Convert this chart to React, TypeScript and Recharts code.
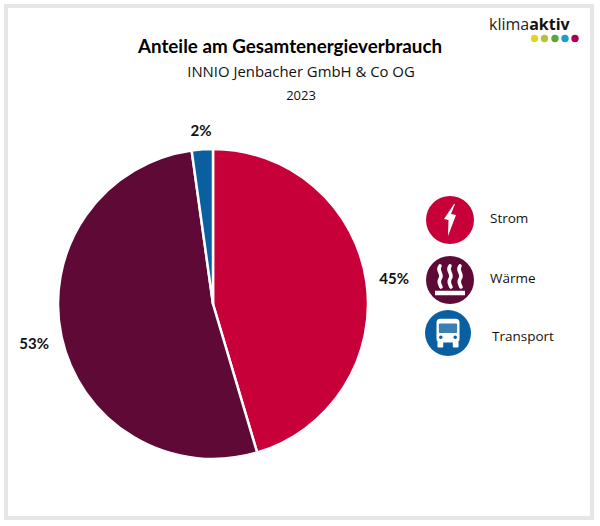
import React from 'react';
import { PieChart, Pie, Cell, Legend } from 'recharts';

const categories = ['Strom', 'Wärme', 'Transport'];
const shares = [45.4, 52.4, 2.2];
const shareLabels = ['45%', '53%', '2%'];
const colors = ['#C70039', '#5F0A36', '#0A5FA0'];
const logoDots = ['#E3D41F', '#B7C235', '#5BA63C', '#1E9BD0', '#A8004F'];

const data = categories.map((name, i) => ({ name, value: shares[i], label: shareLabels[i] }));

const Icon = ({ name, color, r }: { name: string; color: string; r: number }) => (
  <svg width={r * 2} height={r * 2} viewBox="-24 -24 48 48" style={{ display: 'block' }}>
    <circle r={24} fill={color} />
    {name === 'Strom' && <path d="M4 -16 L-6 -1 L-1.5 0 L-2 16 L6 -5 L1 -6 L5 -16 Z" fill="#fff" />}
    {name === 'Wärme' && (
      <g fill="none" stroke="#fff" strokeWidth={3.6} strokeLinecap="round">
        <path d="M-10 -14 C-14 -9 -6 -6 -10 -1 C-12 2 -10 5 -9 7" />
        <path d="M0 -14 C-4 -9 4 -6 0 -1 C-2 2 0 5 1 7" />
        <path d="M10 -14 C6 -9 14 -6 10 -1 C8 2 10 5 11 7" />
        <path d="M-15 13 L15 13" strokeWidth={4.5} strokeLinecap="butt" />
      </g>
    )}
    {name === 'Transport' && (
      <g>
        <rect x={-12} y={-15} width={24} height={25} rx={4} fill="#fff" />
        <rect x={-9.5} y={-10} width={19} height={10} rx={1} fill={color} opacity={0.8} />
        <circle cx={-7.5} cy={4.5} r={1.8} fill={color} />
        <circle cx={7.5} cy={4.5} r={1.8} fill={color} />
        <rect x={-11} y={9} width={6} height={6} rx={1} fill="#fff" />
        <rect x={5} y={9} width={6} height={6} rx={1} fill="#fff" />
      </g>
    )}
  </svg>
);

const legendRows = [
  { top: 196, left: 426, r: 24, textX: 490, textY: 218 },
  { top: 256, left: 426, r: 24, textX: 490, textY: 278 },
  { top: 310, left: 425, r: 23, textX: 492, textY: 336 },
];

const LegendContent = () => (
  <div style={{ position: 'absolute', left: 0, top: 0, width: 600, height: 526, pointerEvents: 'none' }}>
    {categories.map((name, i) => {
      const row = legendRows[i];
      return (
        <React.Fragment key={name}>
          <div style={{ position: 'absolute', left: row.left, top: row.top }}>
            <Icon name={name} color={colors[i]} r={row.r} />
          </div>
          <div
            style={{
              position: 'absolute',
              left: row.textX,
              top: row.textY - 10,
              height: 20,
              lineHeight: '20px',
              fontFamily: '"Open Sans", sans-serif',
              fontSize: 13.5,
              color: '#111',
            }}
          >
            {name}
          </div>
        </React.Fragment>
      );
    })}
  </div>
);

const RAD = Math.PI / 180;
const renderLabel = (p: any) => {
  const gap = p.index === 2 ? 19 : 28;
  const radius = p.outerRadius + gap;
  const x = p.cx + radius * Math.cos(-p.midAngle * RAD);
  const y = p.cy + radius * Math.sin(-p.midAngle * RAD);
  return (
    <text x={x} y={y} textAnchor="middle" dominantBaseline="central" fontFamily="Lato, sans-serif" fontWeight={700} fontSize={15} fill="#111">
      {p.payload.label}
    </text>
  );
};

const dotXs = [534.5, 544.5, 555, 565, 575];

export default function App() {
  return (
    <div style={{ position: 'absolute', left: 0, top: 0, width: 600, height: 526, background: '#fff' }}>
      <div style={{ position: 'absolute', left: 4, top: 4, width: 582, height: 508, border: '4px solid #E8E6E4' }} />
      <PieChart width={600} height={526} margin={{ top: 0, right: 0, bottom: 0, left: 0 }} style={{ position: 'absolute', left: 0, top: 0 }}>
        <text x={290} y={45} textAnchor="middle" dominantBaseline="central" fontFamily="Lato, sans-serif" fontWeight={700} fontSize={18.8} fill="#000">
          Anteile am Gesamtenergieverbrauch
        </text>
        <text x={301} y={71} textAnchor="middle" dominantBaseline="central" fontFamily='"Open Sans", sans-serif' fontSize={14.9} fill="#111">
          INNIO Jenbacher GmbH &amp; Co OG
        </text>
        <text x={301} y={95} textAnchor="middle" dominantBaseline="central" fontFamily='"Open Sans", sans-serif' fontSize={13} fill="#111">
          2023
        </text>
        <text x={489} y={24} dominantBaseline="central" fontFamily='"Open Sans", sans-serif' fontSize={16} fill="#222">
          klima<tspan fontWeight={700} fill="#111">aktiv</tspan>
        </text>
        {logoDots.map((c, i) => (
          <circle key={c} cx={dotXs[i]} cy={38.5} r={3.7} fill={c} />
        ))}
        <Pie
          data={data}
          dataKey="value"
          nameKey="name"
          cx={213}
          cy={304}
          outerRadius={155}
          innerRadius={0}
          startAngle={90}
          endAngle={-270}
          stroke="#fff"
          strokeWidth={2.5}
          label={renderLabel}
          labelLine={false}
          isAnimationActive={false}
        >
          {data.map((d, i) => (
            <Cell key={d.name} fill={colors[i]} />
          ))}
        </Pie>
        <Legend content={<LegendContent />} wrapperStyle={{ position: 'absolute', left: 0, top: 0, width: 600, height: 526 }} />
      </PieChart>
    </div>
  );
}
